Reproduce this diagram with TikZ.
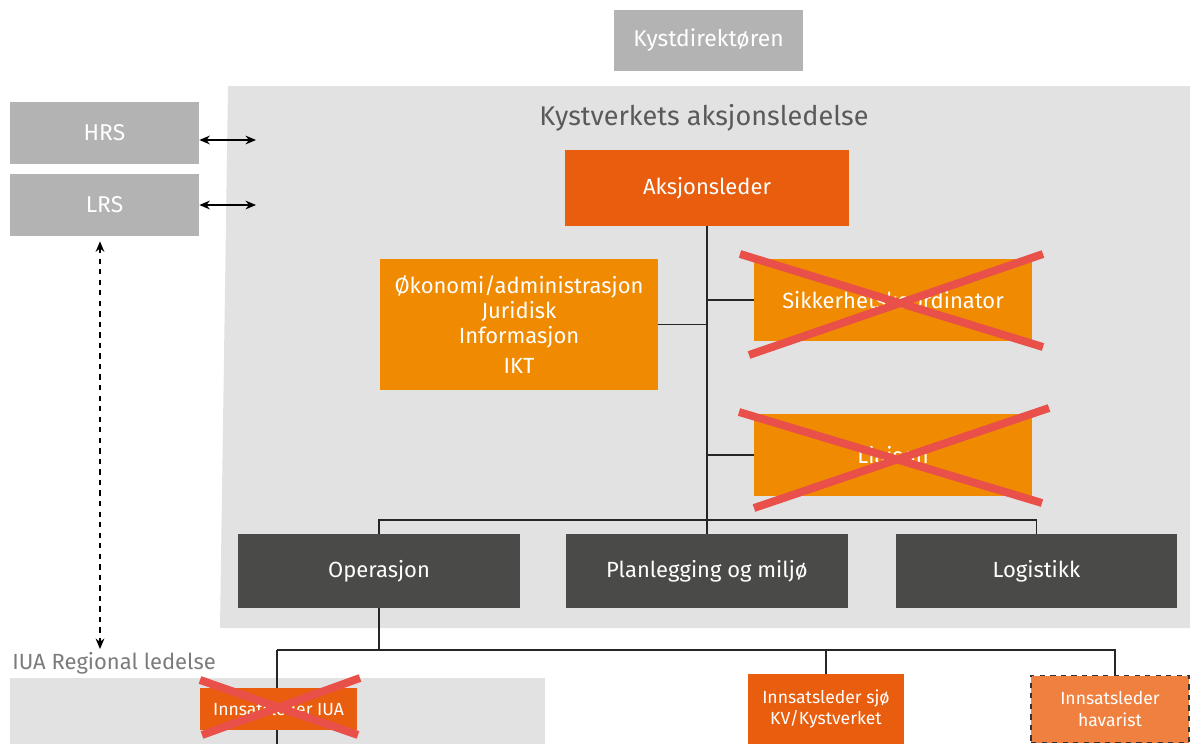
\documentclass[tikz,border=0pt]{standalone}
\usepackage{fontspec}
\setmainfont{Fira Sans}
\usetikzlibrary{arrows.meta, positioning}
\definecolor{panelgrey}{HTML}{E2E2E2}
\definecolor{lightgrey}{HTML}{B3B3B3}
\definecolor{darkgrey}{HTML}{4A4A48}
\definecolor{deeporange}{HTML}{E85D0E}
\definecolor{midorange}{HTML}{F08A00}
\definecolor{softorange}{HTML}{F08040}
\definecolor{crossred}{HTML}{E9504A}
\definecolor{titlegrey}{HTML}{5A5A5A}

\begin{document}
\begin{tikzpicture}[x=0.02cm, y=-0.02cm,
    box/.style={rectangle, inner sep=0pt, align=center, text=white, font=\fontsize{12.5}{14}\selectfont},
    greybox/.style={box, fill=lightgrey, font=\fontsize{13}{15}\selectfont},
    darkbox/.style={box, fill=darkgrey, minimum width=5.64cm, minimum height=1.48cm},
    leadbox/.style={box, fill=deeporange},
    staffbox/.style={box, fill=midorange, minimum width=5.56cm},
    smallbox/.style={box, font=\fontsize{10}{12.5}\selectfont},
    link/.style={draw=black!85, line width=0.8pt},
    cross/.style={draw=crossred, line width=4.5pt}]
    \useasboundingbox (0,0) rectangle (1190,744);
    % panels
    \fill[panelgrey] (228,86) -- (1190,86) -- (1190,628) -- (220,628) -- cycle;
    \fill[panelgrey] (10,678) rectangle (545,744);
    \node[text=titlegrey, font=\fontsize{15.4}{18}\selectfont] (title) at (704,118) {Kystverkets aksjonsledelse};
    \node[text=titlegrey!80, font=\fontsize{12.5}{14}\selectfont, anchor=west, inner sep=0pt] (iualabel) at (12,663) {IUA Regional ledelse};
    % top and left
    \node[greybox, minimum width=3.78cm, minimum height=1.24cm] (kd) at (708.5,40.5) {Kystdirektøren};
    \node[greybox, minimum width=3.78cm, minimum height=1.24cm] (hrs) at (104.5,133) {HRS};
    \node[greybox, minimum width=3.78cm, minimum height=1.24cm] (lrs) at (104.5,205) {LRS};
    \coordinate (hrsend) at (256,140);
    \coordinate (lrsend) at (256,205);
    \coordinate (iuatop) at (100,649);
    % action leadership
    \node[leadbox, minimum width=5.7cm, minimum height=1.52cm] (aksjon) at (707,188) {Aksjonsleder};
    \node[staffbox, minimum height=2.62cm] (okonomi) at (519,324.5)
        {Økonomi/administrasjon\\Juridisk\\Informasjon\\[3pt]IKT};
    \node[staffbox, minimum height=1.64cm] (sikk) at (893,300) {Sikkerhetskoordinator};
    \node[staffbox, minimum height=1.64cm] (liaison) at (893,455) {Liaison};
    \node[darkbox] (oper) at (379,571) {Operasjon};
    \node[darkbox] (plan) at (707,571) {Planlegging og miljø};
    \node[darkbox] (logi) at (1036.5,571) {Logistikk};
    \coordinate (bar) at (707,520);
    \coordinate (split) at (379,650);
    % field leaders
    \coordinate (iuabot) at (277,744);
    \draw[link] (split -| iuabot) -- (iuabot);
    \node[leadbox, smallbox, minimum width=3.16cm, minimum height=0.84cm] (iua) at (278.5,709) {Innsatsleder IUA};
    \node[leadbox, smallbox, minimum width=3.12cm, minimum height=1.4cm] (sjo) at (826,709) {Innsatsleder sjø\\KV/Kystverket};
    \node[smallbox, fill=softorange, draw=black!80, dashed, line width=0.8pt, minimum width=3.16cm, minimum height=1.34cm] (hav) at (1110,709) {Innsatsleder\\havarist};
    \coordinate (havtop) at ([xshift=0.1cm]hav.north);
    % connectors
    \draw[link] (aksjon.south) -- (plan.north);
    \draw[link] (oper.north) |- (bar) -| (logi.north);
    \draw[link] (okonomi.east) -- (okonomi.east -| aksjon.south);
    \draw[link] (sikk.west) -- (sikk.west -| aksjon.south);
    \draw[link] (liaison.west) -- (liaison.west -| aksjon.south);
    \draw[link] (oper.south) -- (split);
    \draw[link] (split -| iuabot) -- (split -| havtop) -- (havtop);
    \draw[link] (split -| sjo.north) -- (sjo.north);
    \draw[{Stealth[length=6pt,width=5pt]}-{Stealth[length=6pt,width=5pt]}, line width=0.7pt] (hrs.east |- hrsend) -- (hrsend);
    \draw[{Stealth[length=6pt,width=5pt]}-{Stealth[length=6pt,width=5pt]}, line width=0.7pt] (lrs.east |- lrsend) -- (lrsend);
    \draw[{Stealth[length=6pt,width=5pt]}-{Stealth[length=6pt,width=5pt]}, dashed, line width=0.7pt] (lrs.south -| iuatop) ++(0,5) -- (iuatop);
    % crossed out
    \draw[cross] (740,254) -- (1043,347);
    \draw[cross] (1043,254) -- (749,355);
    \draw[cross] (739,412) -- (1042,503);
    \draw[cross] (1049,408) -- (754,508);
    \draw[cross] (200,680) -- (358,735);
    \draw[cross] (360,678) -- (202,735);
\end{tikzpicture}
\end{document}
